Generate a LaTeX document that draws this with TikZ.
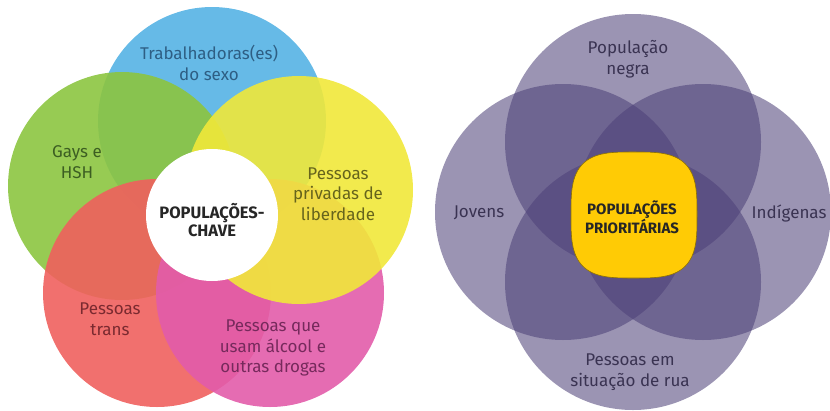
\documentclass[tikz,border=0pt]{standalone}
\usepackage{fontspec}
\setmainfont{Fira Sans}
\definecolor{cblue}{HTML}{55B3E4}
\definecolor{cgreen}{HTML}{8CC540}
\definecolor{cyellow}{HTML}{F1E83A}
\definecolor{cred}{HTML}{F0605E}
\definecolor{cpink}{HTML}{E25CAA}
\definecolor{tblue}{HTML}{2E5E84}
\definecolor{tgreen}{HTML}{3C5E22}
\definecolor{tyellow}{HTML}{66641C}
\definecolor{tred}{HTML}{7A2A30}
\definecolor{tpink}{HTML}{762A5C}
\definecolor{lav}{HTML}{4C4077}
\definecolor{tlav}{HTML}{3A3352}
\definecolor{gold}{HTML}{FFCB05}
\begin{document}
\begin{tikzpicture}[x=1pt,y=-1pt,
  petal/.style={circle,inner sep=0pt,minimum size=228pt,fill opacity=0.9},
  ring/.style={circle,inner sep=0pt,minimum size=256pt,fill=lav,fill opacity=0.56},
  lbl/.style={align=center,font=\fontsize{17}{20.5}\selectfont,inner sep=0pt},
  hdr/.style={align=center,font=\bfseries\fontsize{16.5}{17.5}\selectfont,inner sep=0pt,text=black!85}]
\useasboundingbox (0,0) rectangle (830,410);
% left diagram
\node[petal,fill=cblue] (blue) at (212,121) {};
\node[petal,fill=cgreen] (green) at (122,186) {};
\node[petal,fill=cred] (red) at (157,293) {};
\node[petal,fill=cpink] (pink) at (270,293) {};
\node[petal,fill=cyellow] (yellow) at (299,190) {};
\node[circle,fill=white,inner sep=0pt,minimum size=132pt] (white) at (212,215) {};
\node[lbl,text=tblue] (tb) at (209,63) {Trabalhadoras(es)\\do sexo};
\node[lbl,text=tgreen] (tg) at (77,162) {Gays e\\HSH};
\node[lbl,text=tyellow] (ty) at (338,194) {Pessoas\\privadas de\\liberdade};
\node[lbl,text=tred] (tr) at (110,319) {Pessoas\\trans};
\node[lbl,text=tpink] (tp) at (273,348) {Pessoas que\\usam álcool e\\outras drogas};
\node[hdr] (tw) at (212,220) {POPULAÇÕES-\\CHAVE};
% right diagram
\node[ring] (top) at (633,142) {};
\node[ring] (left) at (563,212) {};
\node[ring] (right) at (703,212) {};
\node[ring] (bottom) at (633,282) {};
\fill[gold,draw=black!45!gold,line width=0.6pt] plot[domain=0:360,samples=120,smooth cycle]
  ({634+63*sign(cos(\x))*abs(cos(\x))^0.6},{215+63*sign(sin(\x))*abs(sin(\x))^0.6});
\node[hdr,font=\bfseries\fontsize{15}{17}\selectfont] (pp) at (632,217) {POPULAÇÕES\\PRIORITÁRIAS};
\node[lbl,text=tlav] (pn) at (628,59) {População\\negra};
\node[lbl,text=tlav] (jv) at (479,213) {Jovens};
\node[lbl,text=tlav] (ind) at (789,213) {Indígenas};
\node[lbl,text=tlav] (ps) at (630,372) {Pessoas em\\situação de rua};
\end{tikzpicture}
\end{document}
